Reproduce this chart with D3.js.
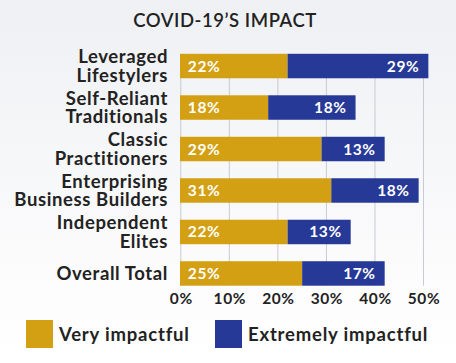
<!DOCTYPE html>
<html>
<head>
<meta charset="utf-8">
<script src="https://cdn.jsdelivr.net/npm/d3@7"></script>
<style>
  body { margin: 0; background: #fff; }
  svg { display: block; font-family: Lato, "Open Sans", sans-serif; }
</style>
</head>
<body>
<svg id="chart" width="456" height="363"></svg>
<script>
const categories = [
  ["Leveraged", "Lifestylers"],
  ["Self-Reliant", "Traditionals"],
  ["Classic", "Practitioners"],
  ["Enterprising", "Business Builders"],
  ["Independent", "Elites"],
  ["Overall Total"]
];
const veryImpactful = [22, 18, 29, 31, 22, 25];
const extremelyImpactful = [29, 18, 13, 18, 13, 17];
const xTicks = [0, 10, 20, 30, 40, 50];
const seriesNames = ["Very impactful", "Extremely impactful"];

const gold = "#d4a013";
const blue = "#263996";

const svg = d3.select("#chart");

const defs = svg.append("defs");
const grad = defs.append("linearGradient")
  .attr("id", "bg").attr("x1", 0).attr("y1", 0).attr("x2", 0).attr("y2", 1);
grad.append("stop").attr("offset", "0%").attr("stop-color", "#eef0f3");
grad.append("stop").attr("offset", "70%").attr("stop-color", "#fbfbfc");
grad.append("stop").attr("offset", "100%").attr("stop-color", "#ffffff");
svg.append("rect").attr("width", 456).attr("height", 363).attr("fill", "url(#bg)");

svg.append("text")
  .attr("x", 225).attr("y", 27)
  .attr("text-anchor", "middle")
  .attr("font-size", 18.5).attr("font-weight", 600)
  .attr("letter-spacing", 0.55)
  .attr("fill", "#222")
  .text("COVID-19\u2019S IMPACT");

const x = d3.scaleLinear().domain([0, 50]).range([180.8, 423.5]);
const y = d3.scaleBand()
  .domain(d3.range(categories.length))
  .range([45.5, 294])
  .paddingInner(0.41)
  .paddingOuter(0.2);

// gridlines
svg.append("g")
  .selectAll("line")
  .data(xTicks)
  .join("line")
  .attr("x1", d => x(d)).attr("x2", d => x(d))
  .attr("y1", y(0)).attr("y2", y(categories.length - 1) + y.bandwidth())
  .attr("stroke", "#c9cbd0").attr("stroke-width", 1);

const rows = svg.append("g")
  .selectAll("g")
  .data(categories.map((c, i) => ({ c, i, a: veryImpactful[i], b: extremelyImpactful[i] })))
  .join("g");

rows.append("rect")
  .attr("x", d => x(0) - 0.8)
  .attr("y", d => y(d.i))
  .attr("width", d => x(d.a) - x(0) + 0.8)
  .attr("height", y.bandwidth())
  .attr("fill", gold);

rows.append("rect")
  .attr("x", d => x(d.a))
  .attr("y", d => y(d.i))
  .attr("width", d => x(d.a + d.b) - x(d.a))
  .attr("height", y.bandwidth())
  .attr("fill", blue);

rows.append("text")
  .attr("x", x(0) + 7)
  .attr("y", d => y(d.i) + y.bandwidth() / 2 + 5.5)
  .attr("fill", "#fff").attr("font-size", 15.5).attr("font-weight", 700)
  .attr("letter-spacing", 0.6)
  .text(d => d.a + "%");

rows.append("text")
  .attr("x", d => x(d.a + d.b) - 9)
  .attr("y", d => y(d.i) + y.bandwidth() / 2 + 5.5)
  .attr("text-anchor", "end")
  .attr("fill", "#fff").attr("font-size", 15.5).attr("font-weight", 700)
  .attr("letter-spacing", 0.6)
  .text(d => d.b + "%");

rows.append("text")
  .attr("text-anchor", "end")
  .attr("font-size", 18.5).attr("font-weight", 700)
  .attr("letter-spacing", 0.6)
  .attr("fill", "#222")
  .each(function (d) {
    const t = d3.select(this);
    const mid = y(d.i) + y.bandwidth() / 2;
    const n = d.c.length;
    d.c.forEach((line, k) => {
      t.append("tspan")
        .attr("x", 168)
        .attr("y", mid + 6.5 + (k - (n - 1) / 2) * 18.5)
        .text(line);
    });
  });

// x axis labels
const axis = svg.append("g")
  .attr("transform", `translate(0,${y(categories.length - 1) + y.bandwidth()})`)
  .call(d3.axisBottom(x).tickValues(xTicks).tickFormat(d => d + "%").tickSize(0).tickPadding(7));
axis.select(".domain").remove();
axis.selectAll("text")
  .attr("font-family", "Lato, sans-serif")
  .attr("font-size", 15.5).attr("font-weight", 700)
  .attr("letter-spacing", 0.6)
  .attr("fill", "#222");

// legend
const legend = svg.append("g");
const legendX = [26, 215];
const legendColors = [gold, blue];
seriesNames.forEach((name, i) => {
  legend.append("rect")
    .attr("x", legendX[i]).attr("y", 320)
    .attr("width", 27).attr("height", 28)
    .attr("fill", legendColors[i]);
  legend.append("text")
    .attr("x", legendX[i] + 33).attr("y", 341)
    .attr("font-size", 18.5).attr("font-weight", 700)
    .attr("letter-spacing", 0.8)
    .attr("fill", "#222")
    .text(name);
});
</script>
</body>
</html>
